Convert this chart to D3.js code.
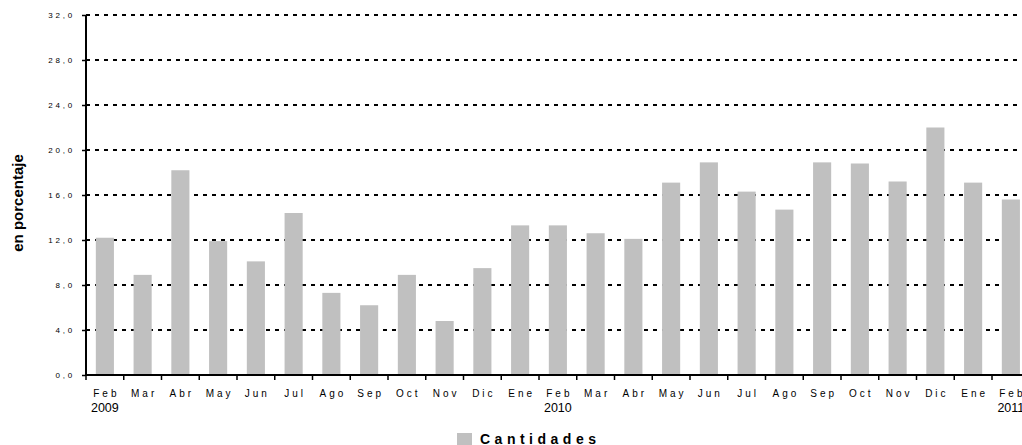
<!DOCTYPE html>
<html>
<head>
<meta charset="utf-8">
<script src="https://cdn.jsdelivr.net/npm/d3@7"></script>
<style>
  html, body { margin: 0; padding: 0; background: #fff; }
  svg { display: block; font-family: Arial, "Liberation Sans", sans-serif; }
</style>
</head>
<body>
<svg id="chart" width="1022" height="445"></svg>
<script>
// ---- data ----
const months = ["Feb","Mar","Abr","May","Jun","Jul","Ago","Sep","Oct","Nov","Dic","Ene",
                "Feb","Mar","Abr","May","Jun","Jul","Ago","Sep","Oct","Nov","Dic","Ene","Feb"];
const years  = ["2009","","","","","","","","","","","",
                "2010","","","","","","","","","","","","2011"];
const cantidades = [12.2, 8.9, 18.2, 11.9, 10.1, 14.4, 7.3, 6.2, 8.9, 4.8, 9.5, 13.3,
                    13.3, 12.6, 12.1, 17.1, 18.9, 16.3, 14.7, 18.9, 18.8, 17.2, 22.0, 17.1, 15.6];
const yTicks = [0, 4, 8, 12, 16, 20, 24, 28, 32];
const yTitle = "en porcentaje";
const legendLabel = "Cantidades";

// ---- layout ----
const svg = d3.select("#chart");
const plotLeft = 86, plotTop = 15, plotBottom = 375;
const step = 37.75;
const idx = d3.range(months.length);

const x = d3.scaleBand()
  .domain(idx)
  .range([plotLeft, plotLeft + step * months.length])
  .paddingInner(0.52)
  .paddingOuter(0.26);

const y = d3.scaleLinear().domain([0, 32]).range([plotBottom, plotTop]);
const fmt = v => d3.format(".1f")(v).replace(".", ",");

// gridlines
svg.append("g")
  .selectAll("line")
  .data(yTicks.filter(d => d > 0))
  .join("line")
  .attr("x1", plotLeft).attr("x2", 1022)
  .attr("y1", d => y(d)).attr("y2", d => y(d))
  .attr("stroke", "#000")
  .attr("stroke-width", 2)
  .attr("stroke-dasharray", "4,5");

// bars
svg.append("g")
  .selectAll("rect")
  .data(cantidades)
  .join("rect")
  .attr("x", (d, i) => x(i))
  .attr("width", x.bandwidth())
  .attr("y", d => y(d))
  .attr("height", d => y(0) - y(d))
  .attr("fill", "#c0c0c0");

// y axis
const yAxis = svg.append("g")
  .attr("transform", `translate(${plotLeft},0)`)
  .call(d3.axisLeft(y).tickValues(yTicks).tickSize(4).tickPadding(7).tickFormat(fmt));
yAxis.select(".domain").attr("stroke", "#000").attr("stroke-width", 2)
  .attr("d", `M0,${plotTop}V${plotBottom}`);
yAxis.selectAll(".tick line").attr("stroke", "#000").attr("stroke-width", 1.5);
yAxis.selectAll(".tick text")
  .attr("font-size", 8)
  .attr("fill", "#000")
  .attr("font-family", "Arial, 'Liberation Sans', sans-serif")
  .style("letter-spacing", "2.8px");

// x axis line + ticks at category boundaries
const xg = svg.append("g");
xg.append("line")
  .attr("x1", plotLeft).attr("x2", 1022)
  .attr("y1", plotBottom).attr("y2", plotBottom)
  .attr("stroke", "#000").attr("stroke-width", 2);
xg.selectAll("line.tk")
  .data(idx)
  .join("line")
  .attr("class", "tk")
  .attr("x1", i => x(i) - x.step() * x.paddingInner() / 2)
  .attr("x2", i => x(i) - x.step() * x.paddingInner() / 2)
  .attr("y1", plotBottom).attr("y2", plotBottom + 5)
  .attr("stroke", "#000").attr("stroke-width", 1.5);

// month labels
xg.selectAll("text.m")
  .data(months)
  .join("text")
  .attr("class", "m")
  .attr("x", (d, i) => x(i) + x.bandwidth() / 2 + 1.5)
  .attr("y", 397)
  .attr("text-anchor", "middle")
  .attr("font-size", 10)
  .style("letter-spacing", "3px")
  .attr("fill", "#000")
  .text(d => d);

// year labels
xg.selectAll("text.yr")
  .data(years)
  .join("text")
  .attr("class", "yr")
  .attr("x", (d, i) => x(i) + x.bandwidth() / 2)
  .attr("y", 412)
  .attr("text-anchor", "middle")
  .attr("font-size", 12.5)
  .attr("fill", "#000")
  .text(d => d);

// y title
svg.append("text")
  .attr("transform", "translate(23,203) rotate(-90)")
  .attr("text-anchor", "middle")
  .attr("font-size", 15)
  .attr("font-weight", "bold")
  .attr("fill", "#000")
  .text(yTitle);

// legend
const lg = svg.append("g");
lg.append("rect")
  .attr("x", 457).attr("y", 433)
  .attr("width", 15).attr("height", 14)
  .attr("fill", "#c0c0c0");
lg.append("text")
  .attr("x", 480).attr("y", 444)
  .attr("font-size", 14)
  .attr("font-weight", "bold")
  .style("letter-spacing", "4.5px")
  .attr("fill", "#000")
  .text(legendLabel);
</script>
</body>
</html>
